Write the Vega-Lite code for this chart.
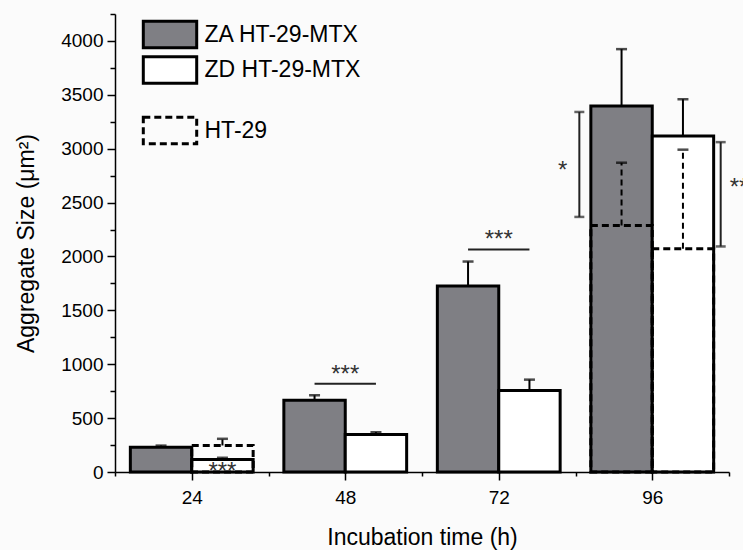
{
  "$schema": "https://vega.github.io/schema/vega-lite/v6.json",
  "autosize": {"type": "none"},
  "width": 614,
  "height": 458,
  "padding": {"left": 115, "top": 14, "right": 14, "bottom": 78},
  "background": "#fbfbfb",
  "config": {
    "view": {"stroke": null},
    "font": "Liberation Sans",
    "axis": {
      "domainColor": "black", "domainWidth": 1.5, "tickColor": "black", "tickWidth": 1.5,
      "labelColor": "black", "titleColor": "black", "grid": false,
      "labelFont": "Liberation Sans", "titleFont": "Liberation Sans", "titleFontWeight": "normal"
    },
    "legend": {"padding": 0}
  },
  "datasets": {
    "bars": [
      {"time": 24, "cell": "ZA HT-29-MTX", "pos": "ZA", "mean": 230, "err": 15},
      {"time": 24, "cell": "ZD HT-29-MTX", "pos": "ZD", "mean": 116, "err": 16},
      {"time": 48, "cell": "ZA HT-29-MTX", "pos": "ZA", "mean": 665, "err": 47},
      {"time": 48, "cell": "ZD HT-29-MTX", "pos": "ZD", "mean": 348, "err": 22},
      {"time": 72, "cell": "ZA HT-29-MTX", "pos": "ZA", "mean": 1727, "err": 226},
      {"time": 72, "cell": "ZD HT-29-MTX", "pos": "ZD", "mean": 757, "err": 100},
      {"time": 96, "cell": "ZA HT-29-MTX", "pos": "ZA", "mean": 3397, "err": 527},
      {"time": 96, "cell": "ZD HT-29-MTX", "pos": "ZD", "mean": 3118, "err": 341},
      {"time": 24, "cell": "HT-29", "pos": "ZD", "mean": 246, "err": 62},
      {"time": 96, "cell": "HT-29", "pos": "ZA", "mean": 2288, "err": 582},
      {"time": 96, "cell": "HT-29", "pos": "ZD", "mean": 2071, "err": 920}
    ],
    "hlines": [
      {"from": 43.2, "to": 52.8, "level": 820},
      {"from": 67.2, "to": 76.8, "level": 2065}
    ],
    "brackets": [
      {"at": 84.6, "low": 2367, "high": 3341},
      {"at": 106.7, "low": 2093, "high": 3061}
    ],
    "stars": [
      {"at": 48, "level": 900, "label": "***"},
      {"at": 72, "level": 2150, "label": "***"},
      {"at": 28.8, "level": 0, "label": "***"},
      {"at": 82.0, "level": 2797, "label": "*"}
    ],
    "starsEdge": [
      {"at": 108.1, "level": 2640, "label": "**"}
    ]
  },
  "resolve": {"axis": {"x": "independent", "y": "independent"}},
  "layer": [
    {
      "data": {"name": "bars"},
      "transform": [
        {"filter": "datum.cell != 'HT-29'"},
        {"calculate": "datum.pos == 'ZA' ? datum.time - 9.6 : datum.time", "as": "left"},
        {"calculate": "datum.left + 9.6", "as": "right"}
      ],
      "mark": {"type": "bar", "stroke": "black", "strokeWidth": 3},
      "encoding": {
        "x": {"field": "left", "type": "quantitative",
          "scale": {"domain": [12, 108], "nice": false, "zero": false},
          "axis": {"orient": "bottom", "values": [24, 48, 72, 96], "title": "Incubation time (h)", "labelFontSize": 19, "titleFontSize": 23,
            "tickSize": 8, "labelPadding": 8, "titlePadding": 19, "labelFlush": false}},
        "x2": {"field": "right"},
        "y": {"field": "mean", "type": "quantitative",
          "scale": {"domain": [0, 4250], "nice": false},
          "axis": {"orient": "left", "values": [0, 500, 1000, 1500, 2000, 2500, 3000, 3500, 4000], "format": "d", "title": "Aggregate Size (μm²)",
            "labelFontSize": 19, "titleFontSize": 23, "tickSize": 8, "labelPadding": 4, "titlePadding": 22, "labelFlush": false}},
        "y2": {"datum": 0},
        "fill": {"field": "cell", "type": "nominal",
          "scale": {"domain": ["ZA HT-29-MTX", "ZD HT-29-MTX"], "range": ["#7f7f84", "#ffffff"]},
          "legend": {"title": null, "orient": "none", "legendX": 40, "legendY": 5.5,
            "symbolType": "M-2,-1H2V1H-2Z", "symbolSize": 713, "symbolStrokeWidth": 3, "symbolStrokeColor": "black",
            "labelFontSize": 23, "labelColor": "black", "labelOffset": 19.5, "rowPadding": -4.5, "labelFont": "Liberation Sans"}}
      }
    },
    {
      "data": {"name": "bars"},
      "transform": [
        {"filter": "datum.cell != 'HT-29'"},
        {"calculate": "datum.pos == 'ZA' ? datum.time - 4.8 : datum.time + 4.8", "as": "mid"},
        {"calculate": "datum.mean + datum.err", "as": "top"}
      ],
      "mark": {"type": "rule", "color": "black", "strokeWidth": 2},
      "encoding": {
        "x": {"field": "mid", "type": "quantitative", "axis": null},
        "y": {"field": "mean", "type": "quantitative", "axis": null},
        "y2": {"field": "top"}
      }
    },
    {
      "data": {"name": "bars"},
      "transform": [
        {"filter": "datum.cell != 'HT-29'"},
        {"calculate": "datum.pos == 'ZA' ? datum.time - 4.8 : datum.time + 4.8", "as": "mid"},
        {"calculate": "datum.mean + datum.err", "as": "top"}
      ],
      "mark": {"type": "tick", "orient": "horizontal", "color": "black", "size": 11, "thickness": 2.5},
      "encoding": {
        "x": {"field": "mid", "type": "quantitative", "axis": null},
        "y": {"field": "top", "type": "quantitative", "axis": null}
      }
    },
    {
      "data": {"name": "bars"},
      "transform": [
        {"filter": "datum.cell == 'HT-29'"},
        {"calculate": "datum.pos == 'ZA' ? datum.time - 9.6 : datum.time", "as": "left"},
        {"calculate": "datum.left + 9.6", "as": "right"}
      ],
      "mark": {"type": "bar", "fill": "transparent", "stroke": "black", "strokeWidth": 3},
      "encoding": {
        "x": {"field": "left", "type": "quantitative",
          "axis": {"orient": "bottom", "values": [12, 36, 60, 84, 108], "labels": false, "title": null, "domain": false, "tickSize": 4}},
        "x2": {"field": "right"},
        "y": {"field": "mean", "type": "quantitative",
          "axis": {"orient": "left", "values": [250, 750, 1250, 1750, 2250, 2750, 3250, 3750, 4250], "labels": false, "title": null, "domain": false, "tickSize": 5}},
        "y2": {"datum": 0},
        "strokeDash": {"field": "cell", "type": "nominal",
          "scale": {"domain": ["HT-29"], "range": [[7, 4]]},
          "legend": {"title": null, "orient": "none", "legendX": 40, "legendY": 101.5,
            "symbolType": "M-2,-1H2V1H-2Z", "symbolSize": 713, "symbolStrokeWidth": 3, "symbolStrokeColor": "black",
            "symbolFillColor": "transparent",
            "labelFontSize": 23, "labelColor": "black", "labelOffset": 19.5, "labelFont": "Liberation Sans"}}
      }
    },
    {
      "data": {"name": "bars"},
      "transform": [
        {"filter": "datum.cell == 'HT-29'"},
        {"calculate": "datum.pos == 'ZA' ? datum.time - 4.8 : datum.time + 4.8", "as": "mid"},
        {"calculate": "datum.mean + datum.err", "as": "top"}
      ],
      "mark": {"type": "rule", "color": "black", "strokeWidth": 2, "strokeDash": [6, 4]},
      "encoding": {
        "x": {"field": "mid", "type": "quantitative", "axis": null},
        "y": {"field": "mean", "type": "quantitative", "axis": null},
        "y2": {"field": "top"}
      }
    },
    {
      "data": {"name": "bars"},
      "transform": [
        {"filter": "datum.cell == 'HT-29'"},
        {"calculate": "datum.pos == 'ZA' ? datum.time - 4.8 : datum.time + 4.8", "as": "mid"},
        {"calculate": "datum.mean + datum.err", "as": "top"}
      ],
      "mark": {"type": "tick", "orient": "horizontal", "color": "black", "size": 11, "thickness": 2.5},
      "encoding": {
        "x": {"field": "mid", "type": "quantitative", "axis": null},
        "y": {"field": "top", "type": "quantitative", "axis": null}
      }
    },
    {
      "data": {"name": "hlines"},
      "mark": {"type": "rule", "color": "#222", "strokeWidth": 2},
      "encoding": {
        "x": {"field": "from", "type": "quantitative", "axis": null},
        "x2": {"field": "to"},
        "y": {"field": "level", "type": "quantitative", "axis": null}
      }
    },
    {
      "data": {"name": "brackets"},
      "mark": {"type": "rule", "color": "#222", "strokeWidth": 2},
      "encoding": {
        "x": {"field": "at", "type": "quantitative", "axis": null},
        "y": {"field": "low", "type": "quantitative", "axis": null},
        "y2": {"field": "high"}
      }
    },
    {
      "data": {"name": "brackets"},
      "transform": [{"fold": ["low", "high"], "as": ["end", "val"]}],
      "mark": {"type": "tick", "orient": "horizontal", "color": "#222", "size": 10, "thickness": 2.5},
      "encoding": {
        "x": {"field": "at", "type": "quantitative", "axis": null},
        "y": {"field": "val", "type": "quantitative", "axis": null}
      }
    },
    {
      "data": {"name": "stars"},
      "mark": {"type": "text", "fontSize": 24, "color": "#333", "align": "center", "baseline": "middle", "font": "Liberation Sans"},
      "encoding": {
        "x": {"field": "at", "type": "quantitative", "axis": null},
        "y": {"field": "level", "type": "quantitative", "axis": null},
        "text": {"field": "label"}
      }
    },
    {
      "data": {"name": "starsEdge"},
      "mark": {"type": "text", "fontSize": 24, "color": "#333", "align": "left", "baseline": "middle", "font": "Liberation Sans"},
      "encoding": {
        "x": {"field": "at", "type": "quantitative", "axis": null},
        "y": {"field": "level", "type": "quantitative", "axis": null},
        "text": {"field": "label"}
      }
    }
  ]
}
